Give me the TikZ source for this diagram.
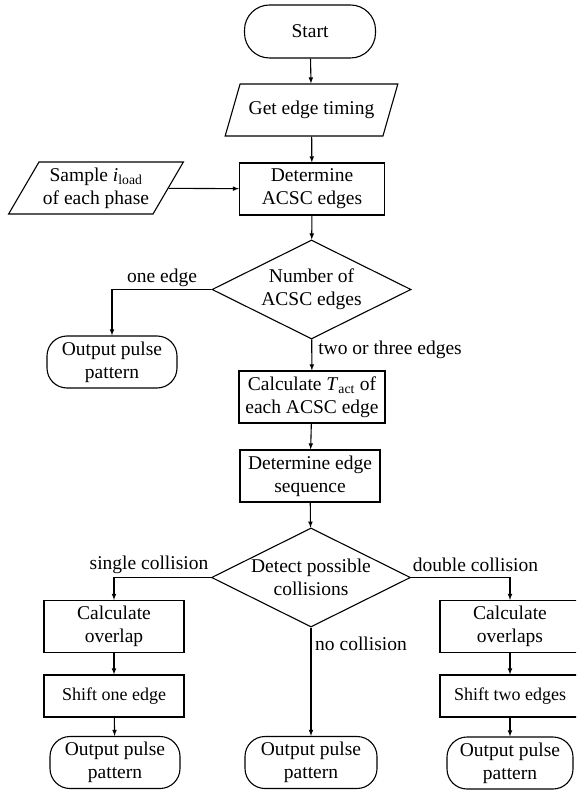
\documentclass[tikz,border=0pt]{standalone}
\usepackage{fontspec}
\setmainfont{Liberation Serif}
\usetikzlibrary{shapes.geometric}

\begin{document}
\begin{tikzpicture}
                \tikzset{x=1pt, y=-1pt}
                \tikzstyle{every node}=[font=\fontsize{19.5}{23}\selectfont, align=center]
                \tikzstyle{proc}=[rectangle, draw, line width=1.1pt, minimum width=140pt, minimum height=52pt, inner sep=2pt]
                \tikzstyle{term}=[rectangle, draw, line width=1.1pt, rounded corners=20pt, minimum width=130pt, minimum height=52pt, inner sep=2pt]
                \tikzstyle{io}=[trapezium, trapezium left angle=56, trapezium right angle=124, trapezium stretches=true, draw, line width=1.1pt, minimum width=173pt, minimum height=52pt, inner sep=1pt]
                \tikzstyle{dec}=[diamond, draw, line width=1.1pt, aspect=2, minimum width=199pt, minimum height=99pt, inner sep=0pt]
                \tikzstyle{flow}=[->, >=latex, line width=1.1pt]

                \clip (0, 0) rectangle (576, 791);

                \draw (310.0,  31.5)  node[term, rounded corners=25pt, minimum width=131pt, minimum height=53pt] (start) {Start};
                \draw (311.5, 110.0)  node[io]    (gettime)   {Get edge timing};
                \draw ( 96.0, 188.0)  node[io, minimum width=175pt] (sample) {Sample \textit{i}\textsubscript{load}\\of each phase};
                \draw (312.0, 189.0)  node[proc, minimum width=145pt] (detacsc) {Determine\\ACSC edges};
                \draw (311.5, 289.5)  node[dec]   (numacsc)   {Number of\\ACSC edges};
                \draw (112.0, 362.0)  node[term]  (outone)    {Output pulse\\pattern};
                \draw (312.0, 397.0)  node[proc, minimum width=146pt] (calctact) {Calculate \textit{T}\textsubscript{act} of\\each ACSC edge};
                \draw (310.0, 476.0)  node[proc]  (detseq)    {Determine edge\\sequence};
                \draw (311.0, 577.5)  node[dec]   (detcoll)   {Detect possible\\collisions};

                \draw (114.0, 626.5)  node[proc]  (calcov)    {Calculate\\overlap};
                \draw (114.0, 696.0)  node[proc, minimum height=42pt, font=\fontsize{18}{22}\selectfont] (shiftone) {Shift one edge};
                \draw (115.0, 762.5)  node[term]  (outsingle) {Output pulse\\pattern};

                \draw (311.0, 762.5)  node[term, minimum width=132pt] (outnone) {Output pulse\\pattern};

                \draw (510.0, 626.5)  node[proc]  (calcovs)   {Calculate\\overlaps};
                \draw (510.0, 696.0)  node[proc, minimum height=42pt, font=\fontsize{18}{22}\selectfont] (shifttwo) {Shift two edges};
                \draw (510.0, 763.0)  node[term, minimum width=126pt] (outdouble) {Output pulse\\pattern};

                \draw (162.0, 278.0)  node        (lblone)    {one edge};
                \draw (390.0, 350.0)  node        (lbltwo)    {two or three edges};
                \draw (149.0, 565.0)  node        (lblsingle) {single collision};
                \draw (475.5, 565.0)  node        (lbldouble) {double collision};
                \draw (361.0, 644.0)  node        (lblnone)   {no collision};

                \draw [flow]          (start) -- (gettime);
                \draw [flow]          (gettime) -- (detacsc);
                \draw [flow]          (sample) -- (detacsc);
                \draw [flow]          (detacsc) -- (numacsc);
                \draw [flow]          (numacsc.west) -| (outone.north);
                \draw [flow]          (numacsc) -- (calctact);
                \draw [flow]          (calctact) -- (detseq);
                \draw [flow]          (detseq) -- (detcoll);
                \draw [flow]          (detcoll.west) -| (calcov.north);
                \draw [flow]          (detcoll.east) -| (calcovs.north);
                \draw [flow]          (detcoll) -- (outnone);
                \draw [flow]          (calcov) -- (shiftone);
                \draw [flow]          (shiftone) -- (outsingle);
                \draw [flow]          (calcovs) -- (shifttwo);
                \draw [flow]          (shifttwo) -- (outdouble);
            \end{tikzpicture}
\end{document}
